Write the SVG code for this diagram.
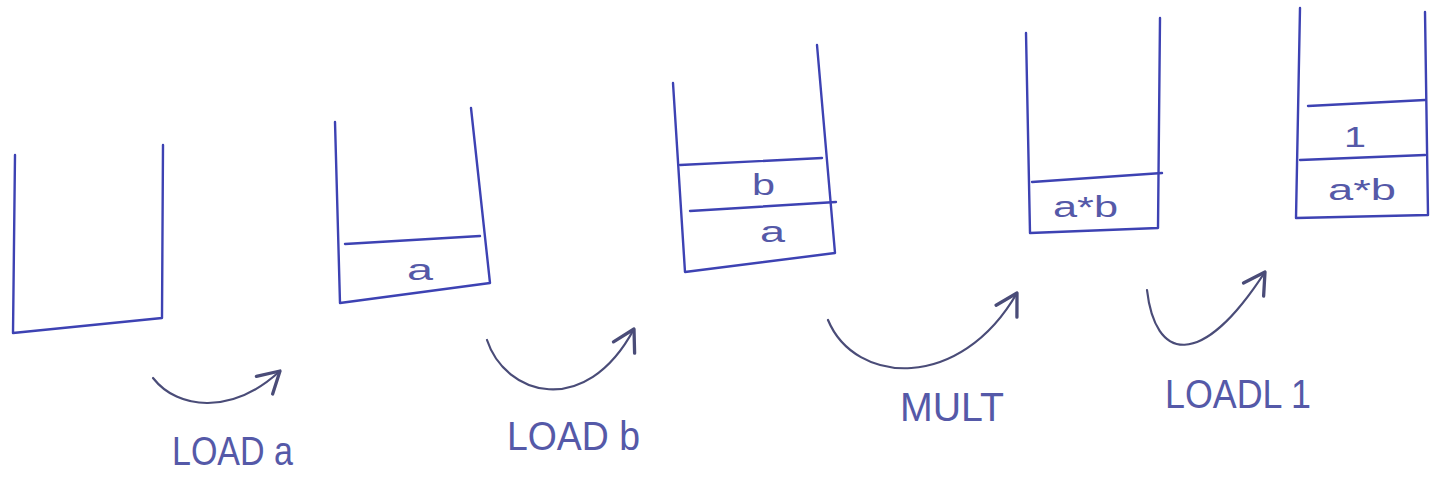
<svg xmlns="http://www.w3.org/2000/svg" width="1443" height="495" viewBox="0 0 1443 495">
<style>
.s{fill:none;stroke:#3d42b3;stroke-width:2.4;stroke-linecap:round;stroke-linejoin:round}
.c{fill:none;stroke:#4a4c78;stroke-width:2.2;stroke-linecap:round}
.t{font-family:"Liberation Sans",Arial,sans-serif;fill:#5559a8}
.lbl{font-size:40px}
.cell{font-size:30px}
</style>
<defs>
<marker id="ah" markerUnits="userSpaceOnUse" markerWidth="30" markerHeight="30" viewBox="0 0 20 20" refX="18" refY="10" orient="auto">
<path d="M4,2 L18,10 L4,18" fill="none" stroke="#4a4c78" stroke-width="2.2" stroke-linecap="round" stroke-linejoin="round"/>
</marker>
</defs>
<rect width="1443" height="495" fill="#ffffff"/>
<g id="stack1">
<path class="s" d="M15,155 L13,333 L162,318 L163,145"/>
</g>
<g id="stack2">
<path class="s" d="M335,122 L340,303 L490,283 L471,108"/>
<path class="s" d="M345,244 L480,236"/>
<text class="t cell" x="407" y="280" textLength="26" lengthAdjust="spacingAndGlyphs">a</text>
</g>
<g id="stack3">
<path class="s" d="M673,83 L685,272 L835,253 L817,45"/>
<path class="s" d="M680,165 L822,158"/>
<path class="s" d="M690,211 L836,202"/>
<text class="t cell" x="752" y="195" textLength="23" lengthAdjust="spacingAndGlyphs">b</text>
<text class="t cell" x="760" y="242" textLength="25" lengthAdjust="spacingAndGlyphs">a</text>
</g>
<g id="stack4">
<path class="s" d="M1026,33 L1030,233 L1158,228 L1160,18"/>
<path class="s" d="M1032,182 L1162,173"/>
<text class="t cell" x="1053" y="217" textLength="65" lengthAdjust="spacingAndGlyphs">a*b</text>
</g>
<g id="stack5">
<path class="s" d="M1300,8 L1296,218 L1428,215 L1425,12"/>
<path class="s" d="M1308,106 L1425,100"/>
<path class="s" d="M1300,160 L1425,155"/>
<text class="t cell" x="1344" y="147" textLength="22" lengthAdjust="spacingAndGlyphs">1</text>
<text class="t cell" x="1328" y="200" textLength="68" lengthAdjust="spacingAndGlyphs">a*b</text>
</g>
<g id="connectors">
<path class="c" d="M153,378 C178,410 232,415 280,371" marker-end="url(#ah)"/>
<path class="c" d="M487,340 C505,395 585,420 634,329" marker-end="url(#ah)"/>
<path class="c" d="M828,320 C855,385 960,392 1017,293" marker-end="url(#ah)"/>
<path class="c" d="M1147,290 C1155,360 1200,372 1265,272" marker-end="url(#ah)"/>
</g>
<g id="labels">
<text class="t lbl" x="172" y="465" textLength="121" lengthAdjust="spacingAndGlyphs">LOAD a</text>
<text class="t lbl" x="507" y="450" textLength="133" lengthAdjust="spacingAndGlyphs">LOAD b</text>
<text class="t lbl" x="900" y="421" textLength="104" lengthAdjust="spacingAndGlyphs">MULT</text>
<text class="t lbl" x="1165" y="408" textLength="146" lengthAdjust="spacingAndGlyphs">LOADL 1</text>
</g>
</svg>
